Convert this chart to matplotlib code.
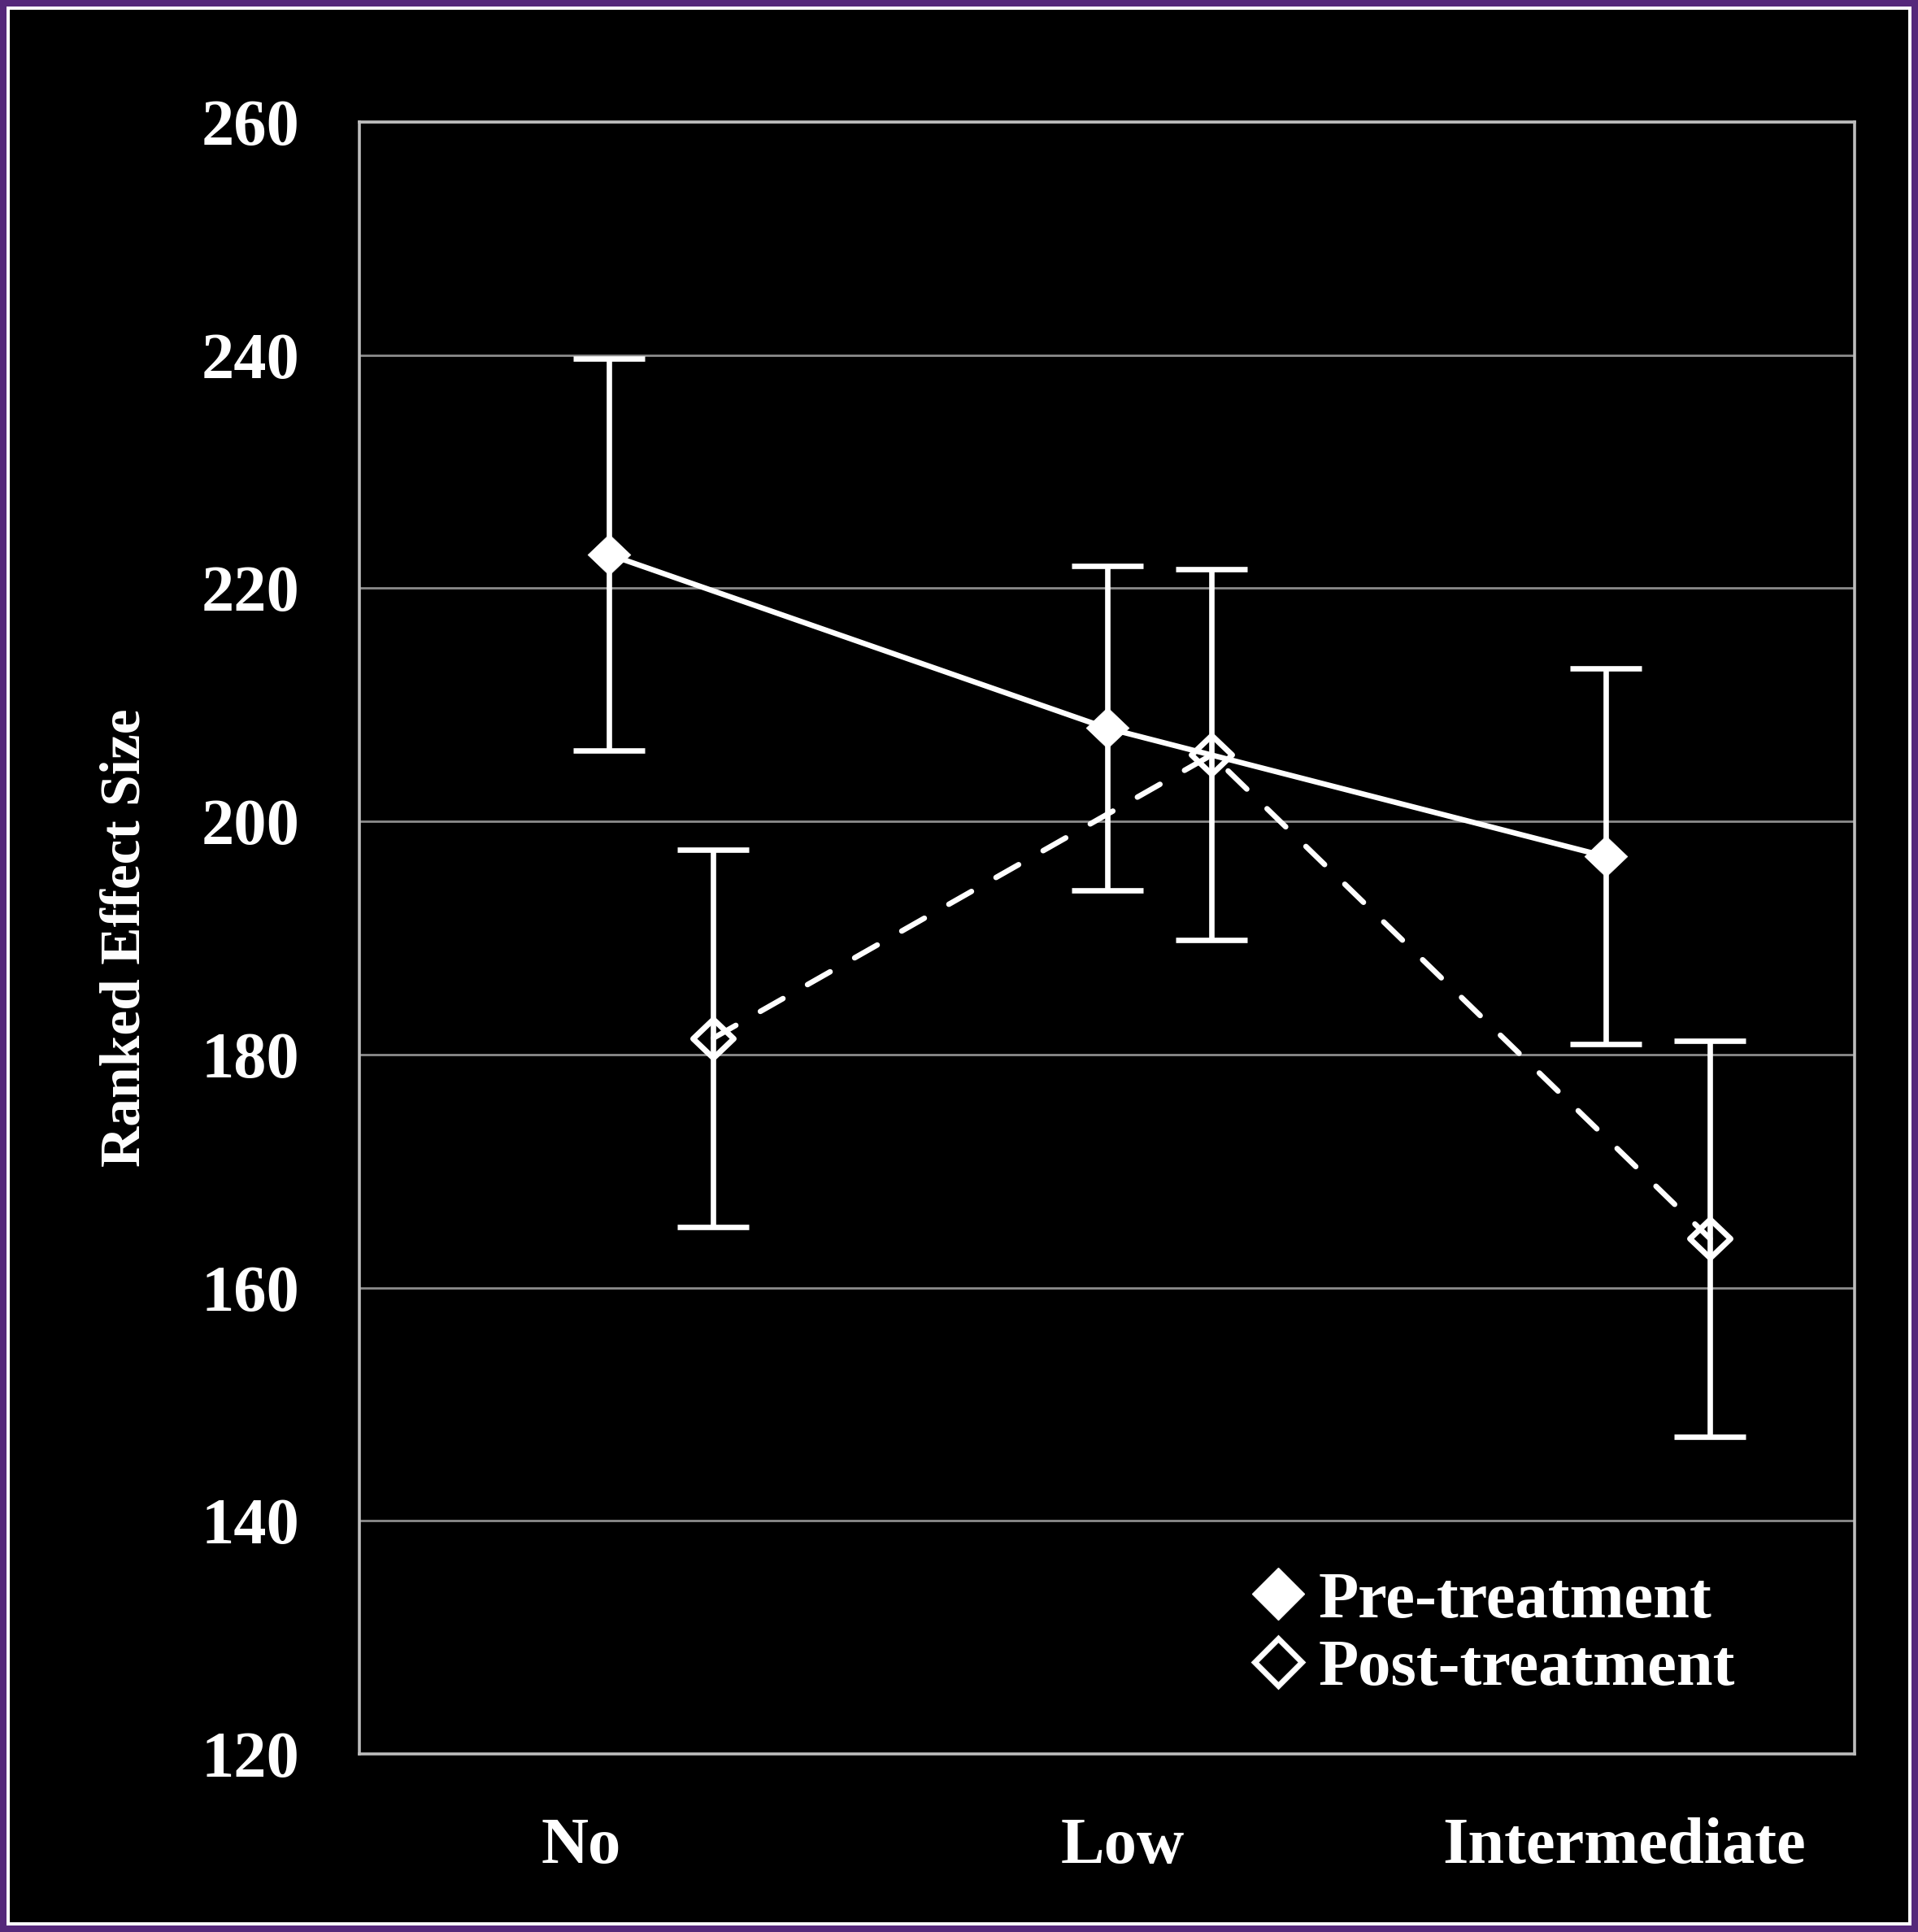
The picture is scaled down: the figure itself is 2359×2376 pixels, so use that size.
import numpy as np
import matplotlib.pyplot as plt
from matplotlib.patches import Rectangle
from matplotlib.lines import Line2D
from matplotlib.path import Path

plt.rcParams['font.family'] = ['Liberation Serif', 'DejaVu Serif']
plt.rcParams['font.weight'] = 'bold'

# data
categorias = ['No', 'Low', 'Intermediate']
pre_media = [222.9, 208.0, 197.0]
pre_error = [16.8, 13.9, 16.1]
post_media = [181.4, 205.7, 164.2]
post_error = [16.2, 15.9, 17.0]
ticks_y = [120, 140, 160, 180, 200, 220, 240, 260]

W, H = 2359, 2376
fig = plt.figure(figsize=(W / 100, H / 100), dpi=100)
fig.patch.set_facecolor('#55287a')

# marco: purpura afuera, linea blanca, fondo negro
fig.patches.append(Rectangle((8 / W, 8 / H), 1 - 16 / W, 1 - 16 / H,
                             transform=fig.transFigure, facecolor='white', edgecolor='none', zorder=-10))
fig.patches.append(Rectangle((12 / W, 12 / H), 1 - 24 / W, 1 - 24 / H,
                             transform=fig.transFigure, facecolor='black', edgecolor='none', zorder=-9))

ax = fig.add_axes([442 / W, 1 - 2157 / H, (2281 - 442) / W, (2157 - 150) / H])
ax.set_facecolor('black')

x = np.arange(len(categorias))
desplaz = 0.21   # post-treatment points sit a bit to the right
x_post = x + desplaz

rombo = Path([(0, 1), (1.05, 0), (0, -1), (-1.05, 0), (0, 1)],
             [Path.MOVETO, Path.LINETO, Path.LINETO, Path.LINETO, Path.CLOSEPOLY])

lw = 4.8
ax.errorbar(x, pre_media, yerr=pre_error, fmt='none', ecolor='white',
            elinewidth=lw, capsize=32, capthick=lw, zorder=3)
ax.errorbar(x_post, post_media, yerr=post_error, fmt='none', ecolor='white',
            elinewidth=lw, capsize=32, capthick=lw, zorder=3)

ax.plot(x, pre_media, color='white', lw=lw, solid_capstyle='round', zorder=4)
linea_post, = ax.plot(x_post, post_media, color='white', lw=lw, zorder=4,
                      dash_capstyle='round')
linea_post.set_dashes((4.8, 5.2))

ax.plot(x, pre_media, ls='none', marker=rombo, ms=38, mfc='white', mec='white',
        mew=0.5, zorder=5)
ax.plot(x_post, post_media, ls='none', marker=rombo, ms=36, mfc='none', mec='white',
        mew=5, zorder=5)

ax.set_xlim(-0.5, 2.5)
ax.set_ylim(120, 260)
ax.set_yticks(ticks_y)
ax.set_yticklabels([str(t) for t in ticks_y])
ax.set_xticks([-0.055, 1.032, 2.038])
ax.set_xticklabels(categorias)
ax.tick_params(axis='y', length=0, pad=53, labelsize=58, colors='white')
ax.tick_params(axis='x', length=0, pad=56, labelsize=58, colors='white')

ax.yaxis.grid(True, color='#8c8c8c', lw=2.0)
ax.set_axisbelow(True)
for s in ax.spines.values():
    s.set_color('#bdbdbd')
    s.set_linewidth(2.6)

ax.set_ylabel('Ranked Effect Size', fontsize=50, color='white', fontweight='bold')
ax.yaxis.set_label_coords(-0.139, 0.5)

h_pre = Line2D([], [], ls='none', marker='D', ms=33, mfc='white', mec='white', mew=1)
h_post = Line2D([], [], ls='none', marker='D', ms=30, mfc='none', mec='white', mew=5)
ley = ax.legend([h_pre, h_post], ['Pre-treatment', 'Post-treatment'],
                loc='center left', bbox_to_anchor=(0.597, 0.073), frameon=False,
                fontsize=58, labelcolor='white', handlelength=0.8, handletextpad=0.22,
                labelspacing=0.12, borderpad=0, borderaxespad=0)

fig.savefig('out.png', dpi=100, facecolor=fig.get_facecolor())
